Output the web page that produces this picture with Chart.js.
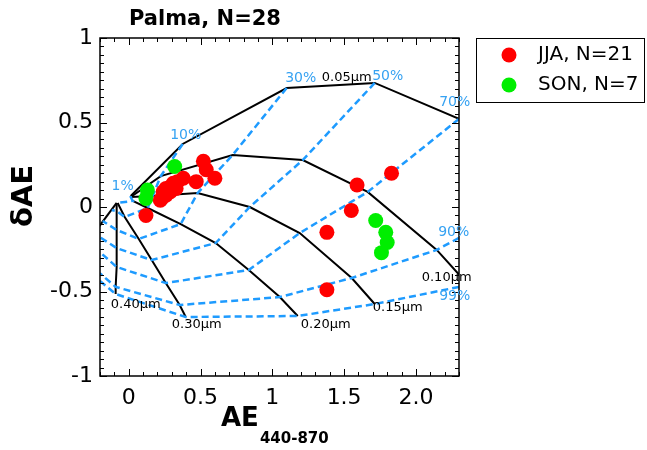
<!DOCTYPE html>
<html>
<head>
<meta charset="utf-8">
<script src="https://cdn.jsdelivr.net/npm/chart.js@4.4.0/dist/chart.umd.min.js"></script>
<style>
  html, body { margin: 0; padding: 0; background: #fff; }
</style>
</head>
<body>
<canvas id="chart" width="647" height="450"></canvas>
<script>
// observations (AE 440-870 vs delta AE)
const jjaX = [0.52, 0.54, 0.60, 0.47, 0.38, 0.34, 0.31, 0.29, 0.26, 0.24, 0.26, 0.23, 0.22, 0.29, 0.33, 0.12, 1.83, 1.59, 1.55, 1.38, 1.38];
const jjaY = [0.27, 0.22, 0.17, 0.15, 0.17, 0.15, 0.14, 0.12, 0.11, 0.09, 0.07, 0.05, 0.04, 0.09, 0.11, -0.05, 0.20, 0.13, -0.02, -0.15, -0.49];
const sonX = [0.32, 0.13, 0.12, 1.72, 1.79, 1.80, 1.76];
const sonY = [0.24, 0.10, 0.05, -0.08, -0.15, -0.21, -0.27];

// classification grid, black = fine mode radius
const r005 = [[0.014, 0.065], [0.376, 0.373], [1.100, 0.704], [1.713, 0.734], [2.300, 0.521]];
const r010 = [[0.014, 0.059], [0.223, 0.183], [0.724, 0.308], [1.212, 0.278], [1.664, 0.089], [2.145, -0.254], [2.300, -0.400]];
const r015 = [[0.014, 0.059], [0.167, 0.065], [0.480, 0.083], [0.843, 0.000], [1.191, -0.154], [1.553, -0.420], [1.713, -0.574]];
const r020 = [[0.028, 0.036], [0.132, -0.006], [0.362, -0.101], [0.606, -0.213], [0.836, -0.373], [1.052, -0.533], [1.177, -0.645]];
const r030 = [[-0.077, 0.024], [-0.028, -0.059], [0.070, -0.189], [0.160, -0.314], [0.258, -0.450], [0.355, -0.580], [0.397, -0.651]];
const r040 = [[-0.084, 0.024], [-0.084, -0.024], [-0.084, -0.136], [-0.084, -0.243], [-0.084, -0.355], [-0.091, -0.473], [-0.091, -0.515]];
const rBig = [[-0.084, 0.024], [-0.230, -0.142]];

// blue dashed = fine mode fraction
const f01 = [[0.014, 0.065], [0.014, 0.059], [0.028, 0.036], [-0.077, 0.024], [-0.084, 0.024]];
const f10 = [[0.376, 0.373], [0.223, 0.183], [0.167, 0.065], [0.132, -0.006], [-0.028, -0.059], [-0.084, -0.024], [-0.118, -0.018]];
const f30 = [[1.100, 0.704], [0.724, 0.308], [0.480, 0.083], [0.362, -0.101], [0.070, -0.189], [-0.084, -0.136], [-0.181, -0.083]];
const f50 = [[1.713, 0.734], [1.212, 0.278], [0.843, 0.000], [0.606, -0.213], [0.160, -0.314], [-0.084, -0.243], [-0.202, -0.178]];
const f70 = [[2.300, 0.521], [1.664, 0.089], [1.191, -0.154], [0.836, -0.373], [0.258, -0.450], [-0.084, -0.355], [-0.202, -0.266]];
const f90 = [[2.300, -0.183], [2.145, -0.254], [1.553, -0.420], [1.052, -0.533], [0.355, -0.580], [-0.091, -0.473], [-0.202, -0.391]];
const f99 = [[2.300, -0.473], [1.713, -0.574], [1.177, -0.645], [0.397, -0.651], [-0.091, -0.515], [-0.209, -0.432]];

const gridLabels = ['1%', '10%', '30%', '0.05μm', '50%', '70%', '90%', '99%', '0.10μm', '0.15μm', '0.20μm', '0.30μm', '0.40μm'];
const gridLabelX = [-0.042, 0.397, 1.198, 1.518, 1.804, 2.270, 2.263, 2.270, 2.214, 1.873, 1.372, 0.474, 0.049];
const gridLabelY = [0.124, 0.426, 0.763, 0.763, 0.775, 0.621, -0.148, -0.527, -0.420, -0.598, -0.698, -0.698, -0.580];

const xTicks = [0, 0.5, 1, 1.5, 2];
const xTickLabels = ['0', '0.5', '1', '1.5', '2.0'];
const yTicks = [-1, -0.5, 0, 0.5, 1];
const yTickLabels = ['-1', '-0.5', '0', '0.5', '1'];

const BLUE = '#1e9bff';
const LABEL_BLUE = '#36a2f2';
const FONT = '"DejaVu Sans", Arial, sans-serif';

const toPts = arr => arr.map(p => ({x: p[0], y: p[1]}));

const datasets = [
    {
        label: 'JJA, N=21',
        data: jjaX.map((x, i) => ({x, y: jjaY[i]})),
        backgroundColor: '#ff0000',
        pointRadius: 7.5,
        borderWidth: 0,
        order: 0
    },
    {
        label: 'SON, N=7',
        data: sonX.map((x, i) => ({x, y: sonY[i]})),
        backgroundColor: '#00ee00',
        pointRadius: 7.5,
        borderWidth: 0,
        order: 0
    }
];

[r005, r010, r015, r020, r030, r040, rBig].forEach(line => {
    datasets.push({
        data: toPts(line),
        showLine: true,
        borderColor: '#000',
        borderWidth: 2,
        pointRadius: 0,
        clip: 0,
        order: 2
    });
});

[f01, f10, f30, f50, f70, f90, f99].forEach(line => {
    datasets.push({
        data: toPts(line),
        showLine: true,
        borderColor: BLUE,
        borderWidth: 2.5,
        borderDash: [7, 4],
        pointRadius: 0,
        clip: 0,
        order: 1
    });
});

// frame, inward ticks, labels, titles, legend
const decor = {
    id: 'decor',
    afterDatasetsDraw(chart) {
        const {ctx, chartArea: a, scales: {x, y}} = chart;
        ctx.save();

        ctx.strokeStyle = '#000';
        ctx.lineWidth = 1.5;
        ctx.strokeRect(a.left, a.top, a.right - a.left, a.bottom - a.top);

        ctx.lineWidth = 1;
        ctx.beginPath();
        for (let k = -2; k <= 23; k++) {
            const px = Math.round(x.getPixelForValue(k / 10)) + 0.5;
            const len = k % 5 === 0 ? 7 : 4;
            ctx.moveTo(px, a.bottom); ctx.lineTo(px, a.bottom - len);
            ctx.moveTo(px, a.top); ctx.lineTo(px, a.top + len);
        }
        for (let k = -20; k <= 20; k++) {
            const py = Math.round(y.getPixelForValue(k / 20)) + 0.5;
            const len = k % 10 === 0 ? 7 : 4;
            ctx.moveTo(a.left, py); ctx.lineTo(a.left + len, py);
            ctx.moveTo(a.right, py); ctx.lineTo(a.right - len, py);
        }
        ctx.stroke();

        // grid labels
        ctx.textAlign = 'center';
        ctx.textBaseline = 'middle';
        gridLabels.forEach((t, i) => {
            const pct = t.includes('%');
            ctx.font = (pct ? '14px ' : '13px ') + FONT;
            ctx.fillStyle = pct ? LABEL_BLUE : '#000';
            ctx.fillText(t, x.getPixelForValue(gridLabelX[i]), y.getPixelForValue(gridLabelY[i]));
        });

        // title
        ctx.fillStyle = '#000';
        ctx.font = 'bold 21px ' + FONT;
        ctx.fillText('Palma, N=28', 205, 20);

        // y title
        ctx.save();
        ctx.translate(24, 196);
        ctx.rotate(-Math.PI / 2);
        ctx.font = 'bold 29px ' + FONT;
        ctx.fillText('δAE', 0, 0);
        ctx.restore();

        // x title
        ctx.textAlign = 'left';
        ctx.textBaseline = 'alphabetic';
        ctx.font = 'bold 26px ' + FONT;
        ctx.fillText('AE', 221, 426);
        const w = ctx.measureText('AE').width;
        ctx.font = 'bold 15px ' + FONT;
        ctx.fillText('440-870', 221 + w + 1, 443);

        // legend
        ctx.strokeStyle = '#000';
        ctx.lineWidth = 1;
        ctx.strokeRect(476.5, 38.5, 168, 64);
        ctx.textBaseline = 'middle';
        ctx.font = '20px ' + FONT;
        chart.data.datasets.slice(0, 2).forEach((ds, i) => {
            const cy = 55 + i * 30;
            ctx.fillStyle = ds.backgroundColor;
            ctx.beginPath();
            ctx.arc(509, cy, 7.5, 0, Math.PI * 2);
            ctx.fill();
            ctx.fillStyle = '#000';
            ctx.fillText(ds.label, 538, cy);
        });

        ctx.restore();
    }
};

new Chart(document.getElementById('chart').getContext('2d'), {
    type: 'scatter',
    data: {datasets},
    options: {
        responsive: false,
        animation: false,
        devicePixelRatio: 1,
        layout: {padding: {left: 0, top: 38, right: 188, bottom: 0}},
        plugins: {
            legend: {display: false},
            tooltip: {enabled: false}
        },
        scales: {
            x: {
                type: 'linear',
                min: -0.2,
                max: 2.3,
                afterBuildTicks: s => { s.ticks = xTicks.map(v => ({value: v})); },
                afterFit: s => { s.height = 74; },
                grid: {display: false, drawTicks: false},
                border: {display: false},
                ticks: {
                    callback: v => xTickLabels[xTicks.indexOf(v)],
                    font: {family: FONT, size: 22},
                    color: '#000',
                    padding: 9,
                    maxRotation: 0,
                    autoSkip: false
                }
            },
            y: {
                type: 'linear',
                min: -1,
                max: 1,
                afterBuildTicks: s => { s.ticks = yTicks.map(v => ({value: v})); },
                afterFit: s => { s.width = 100; },
                grid: {display: false, drawTicks: false},
                border: {display: false},
                ticks: {
                    callback: v => yTickLabels[yTicks.indexOf(v)],
                    font: {family: FONT, size: 22},
                    color: '#000',
                    padding: 7,
                    autoSkip: false
                }
            }
        }
    },
    plugins: [decor]
});
</script>
</body>
</html>
